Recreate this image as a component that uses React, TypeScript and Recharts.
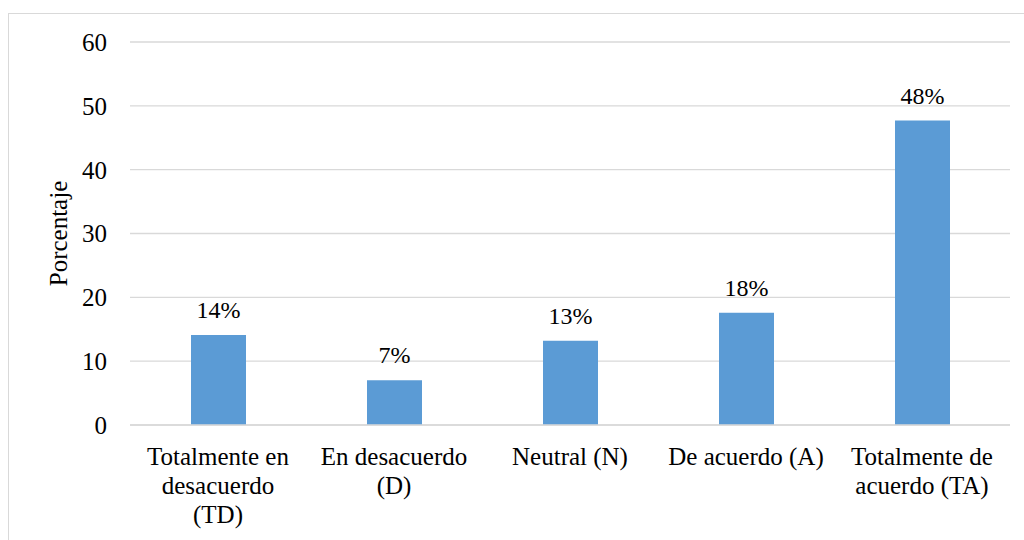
import { BarChart, Bar, XAxis, YAxis, CartesianGrid, LabelList } from 'recharts';

const categoryLines = [
    ['Totalmente en', 'desacuerdo', '(TD)'],
    ['En desacuerdo', '(D)'],
    ['Neutral (N)'],
    ['De acuerdo (A)'],
    ['Totalmente de', 'acuerdo (TA)'],
];
const categories = categoryLines.map((l) => l.join(' '));
const values = [14.1, 7.0, 13.2, 17.6, 47.7];
const valueLabels = ['14%', '7%', '13%', '18%', '48%'];
const yTicks = [0, 10, 20, 30, 40, 50, 60];

const FONT = "'Liberation Serif', 'DejaVu Serif', serif";
const GRID = '#d9d9d9';

const data = categories.map((c, i) => ({ name: c, value: values[i], label: valueLabels[i] }));

// etiqueta del eje X partida en varias líneas, como en el original
function CategoryTick({ x, y, payload }: any) {
    const idx = categories.indexOf(payload.value);
    const lines = idx >= 0 ? categoryLines[idx] : [String(payload.value)];
    return (
        <text x={x} y={y} textAnchor="middle" fill="#000" fontSize={25} fontFamily={FONT}>
            {lines.map((line, i) => (
                <tspan key={i} x={x} dy={i === 0 ? 40 : 29}>
                    {line}
                </tspan>
            ))}
        </text>
    );
}

function AxisTitle({ viewBox }: any) {
    const cx = 49;
    const cy = viewBox.y + viewBox.height / 2;
    return (
        <text
            x={cx}
            y={cy}
            transform={`rotate(-90, ${cx}, ${cy})`}
            textAnchor="middle"
            dominantBaseline="central"
            fill="#000"
            fontSize={25}
            fontFamily={FONT}
        >
            Porcentaje
        </text>
    );
}

export default function App() {
    return (
        <div
            style={{
                position: 'fixed',
                left: 0,
                top: 0,
                width: 1024,
                height: 540,
                overflow: 'hidden',
                background: '#fff',
                fontFamily: FONT,
            }}
        >
            <div
                style={{
                    position: 'absolute',
                    left: 8,
                    top: 13,
                    width: 1030,
                    height: 560,
                    border: `1px solid ${GRID}`,
                    boxSizing: 'border-box',
                }}
            >
                <BarChart width={1010} height={526} data={data} margin={{ top: 28, right: 9, left: 0, bottom: 0 }}>
                    <CartesianGrid vertical={false} stroke={GRID} strokeWidth={1.3} />
                    <XAxis
                        dataKey="name"
                        height={115}
                        axisLine={{ stroke: GRID, strokeWidth: 1.3 }}
                        tickLine={false}
                        tickSize={0}
                        tickMargin={0}
                        interval={0}
                        tick={<CategoryTick />}
                    />
                    <YAxis
                        width={121}
                        domain={[0, 60]}
                        ticks={yTicks}
                        axisLine={false}
                        tickLine={false}
                        tickSize={0}
                        tickMargin={23}
                        tick={{ fontSize: 25, fill: '#000', fontFamily: FONT }}
                        label={<AxisTitle />}
                    />
                    <Bar dataKey="value" fill="#5B9BD5" barSize={55} isAnimationActive={false}>
                        <LabelList
                            dataKey="label"
                            position="top"
                            offset={17}
                            fill="#000"
                            fontSize={24}
                            fontFamily={FONT}
                        />
                    </Bar>
                </BarChart>
            </div>
        </div>
    );
}
